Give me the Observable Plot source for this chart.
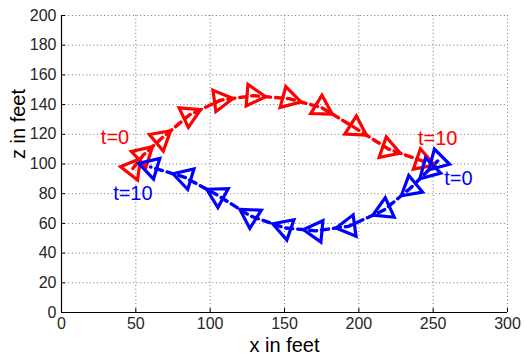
<!DOCTYPE html>
<html><head><meta charset="utf-8">
<script src="https://cdn.jsdelivr.net/npm/d3@7"></script>
<script src="https://cdn.jsdelivr.net/npm/@observablehq/plot@0.6"></script>
<style>body{margin:0;background:#fff} svg{display:block}</style>
</head><body><div id="chart"></div>
<script>
// time steps t = 0 .. 10
const steps = [0,1,2,3,4,5,6,7,8,9,10];
// red path (x, z in feet)
const redX = [48, 55, 67, 86, 107, 129, 153, 175, 198, 220, 243];
const redZ = [97, 106, 117, 133, 143, 146, 144, 138, 124, 110, 102];
// blue path
const blueX = [253, 247, 235, 217, 193, 171, 150, 127, 105, 83, 60];
const blueZ = [102, 96, 84, 69, 58, 55, 57, 65, 79, 91, 98];
// tick values
const xTicks = [0, 50, 100, 150, 200, 250, 300];
const zTicks = [0, 20, 40, 60, 80, 100, 120, 140, 160, 180, 200];
// annotation labels
const labelText = ["t=0", "t=10", "t=0", "t=10"];
const labelX = [36, 253, 267, 48];
const labelZ = [118, 117, 90, 80];
const labelSeries = ["red", "red", "blue", "blue"];

const kx = 446 / 300, ky = 297 / 200;
function build(xs, zs, name) {
  return steps.map((t, i) => {
    const j0 = i < xs.length - 1 ? i : i - 1;
    const dx = (xs[j0 + 1] - xs[j0]) * kx;
    const dz = (zs[j0 + 1] - zs[j0]) * ky;
    return {t, x: xs[i], z: zs[i], series: name, angle: Math.atan2(dx, dz) * 180 / Math.PI};
  });
}
const red = build(redX, redZ, "red");
const blue = build(blueX, blueZ, "blue");
const labels = labelText.map((s, i) => ({text: s, x: labelX[i], z: labelZ[i], series: labelSeries[i]}));
const colors = {red: "#ff0000", blue: "#0000ff"};

const chart = Plot.plot({
  width: 525, height: 355,
  marginLeft: 61, marginRight: 18, marginTop: 15, marginBottom: 43,
  x: {domain: [0, 300], label: null},
  y: {domain: [0, 200], label: null},
  style: {fontFamily: "'Liberation Sans', Arial, sans-serif", fontSize: "16px", color: "#262626", background: "#fff", overflow: "visible"},
  marks: [
    Plot.gridX(xTicks, {stroke: "#666", strokeOpacity: 1, strokeWidth: 0.9, strokeDasharray: "1,2.6"}),
    Plot.gridY(zTicks, {stroke: "#666", strokeOpacity: 1, strokeWidth: 0.9, strokeDasharray: "1,2.6"}),
    Plot.axisX(xTicks, {tickSize: -4, tickPadding: 9, stroke: "#000", fill: "#262626", fontSize: 16, tickFormat: d => String(d)}),
    Plot.axisY(zTicks, {tickSize: -4, tickPadding: 9, stroke: "#000", fill: "#262626", fontSize: 16, tickFormat: d => String(d)}),
    Plot.ruleX([0], {stroke: "#000", strokeWidth: 1.2}),
    Plot.ruleY([0], {stroke: "#000", strokeWidth: 1.2}),
    Plot.line(red, {x: "x", y: "z", stroke: colors.red, strokeWidth: 3.4, strokeDasharray: "7,5"}),
    Plot.line(blue, {x: "x", y: "z", stroke: colors.blue, strokeWidth: 3.4, strokeDasharray: "7,5"}),
    Plot.dot(red, {x: "x", y: "z", symbol: "triangle", r: 8, rotate: "angle", stroke: colors.red, strokeWidth: 3.2, fill: "none"}),
    Plot.dot(blue, {x: "x", y: "z", symbol: "triangle", r: 8, rotate: "angle", stroke: colors.blue, strokeWidth: 3.2, fill: "none"}),
    Plot.text(labels, {x: "x", y: "z", text: "text", fill: d => colors[d.series], fontSize: 20}),
    Plot.text(["x in feet"], {frameAnchor: "bottom", dy: 33, fontSize: 20, fill: "#000", lineAnchor: "middle"}),
    Plot.text(["z in feet"], {frameAnchor: "left", dx: -43, dy: -5, rotate: -90, fontSize: 20, fill: "#000", lineAnchor: "middle"})
  ]
});
document.getElementById("chart").appendChild(chart);
</script>
</body></html>
